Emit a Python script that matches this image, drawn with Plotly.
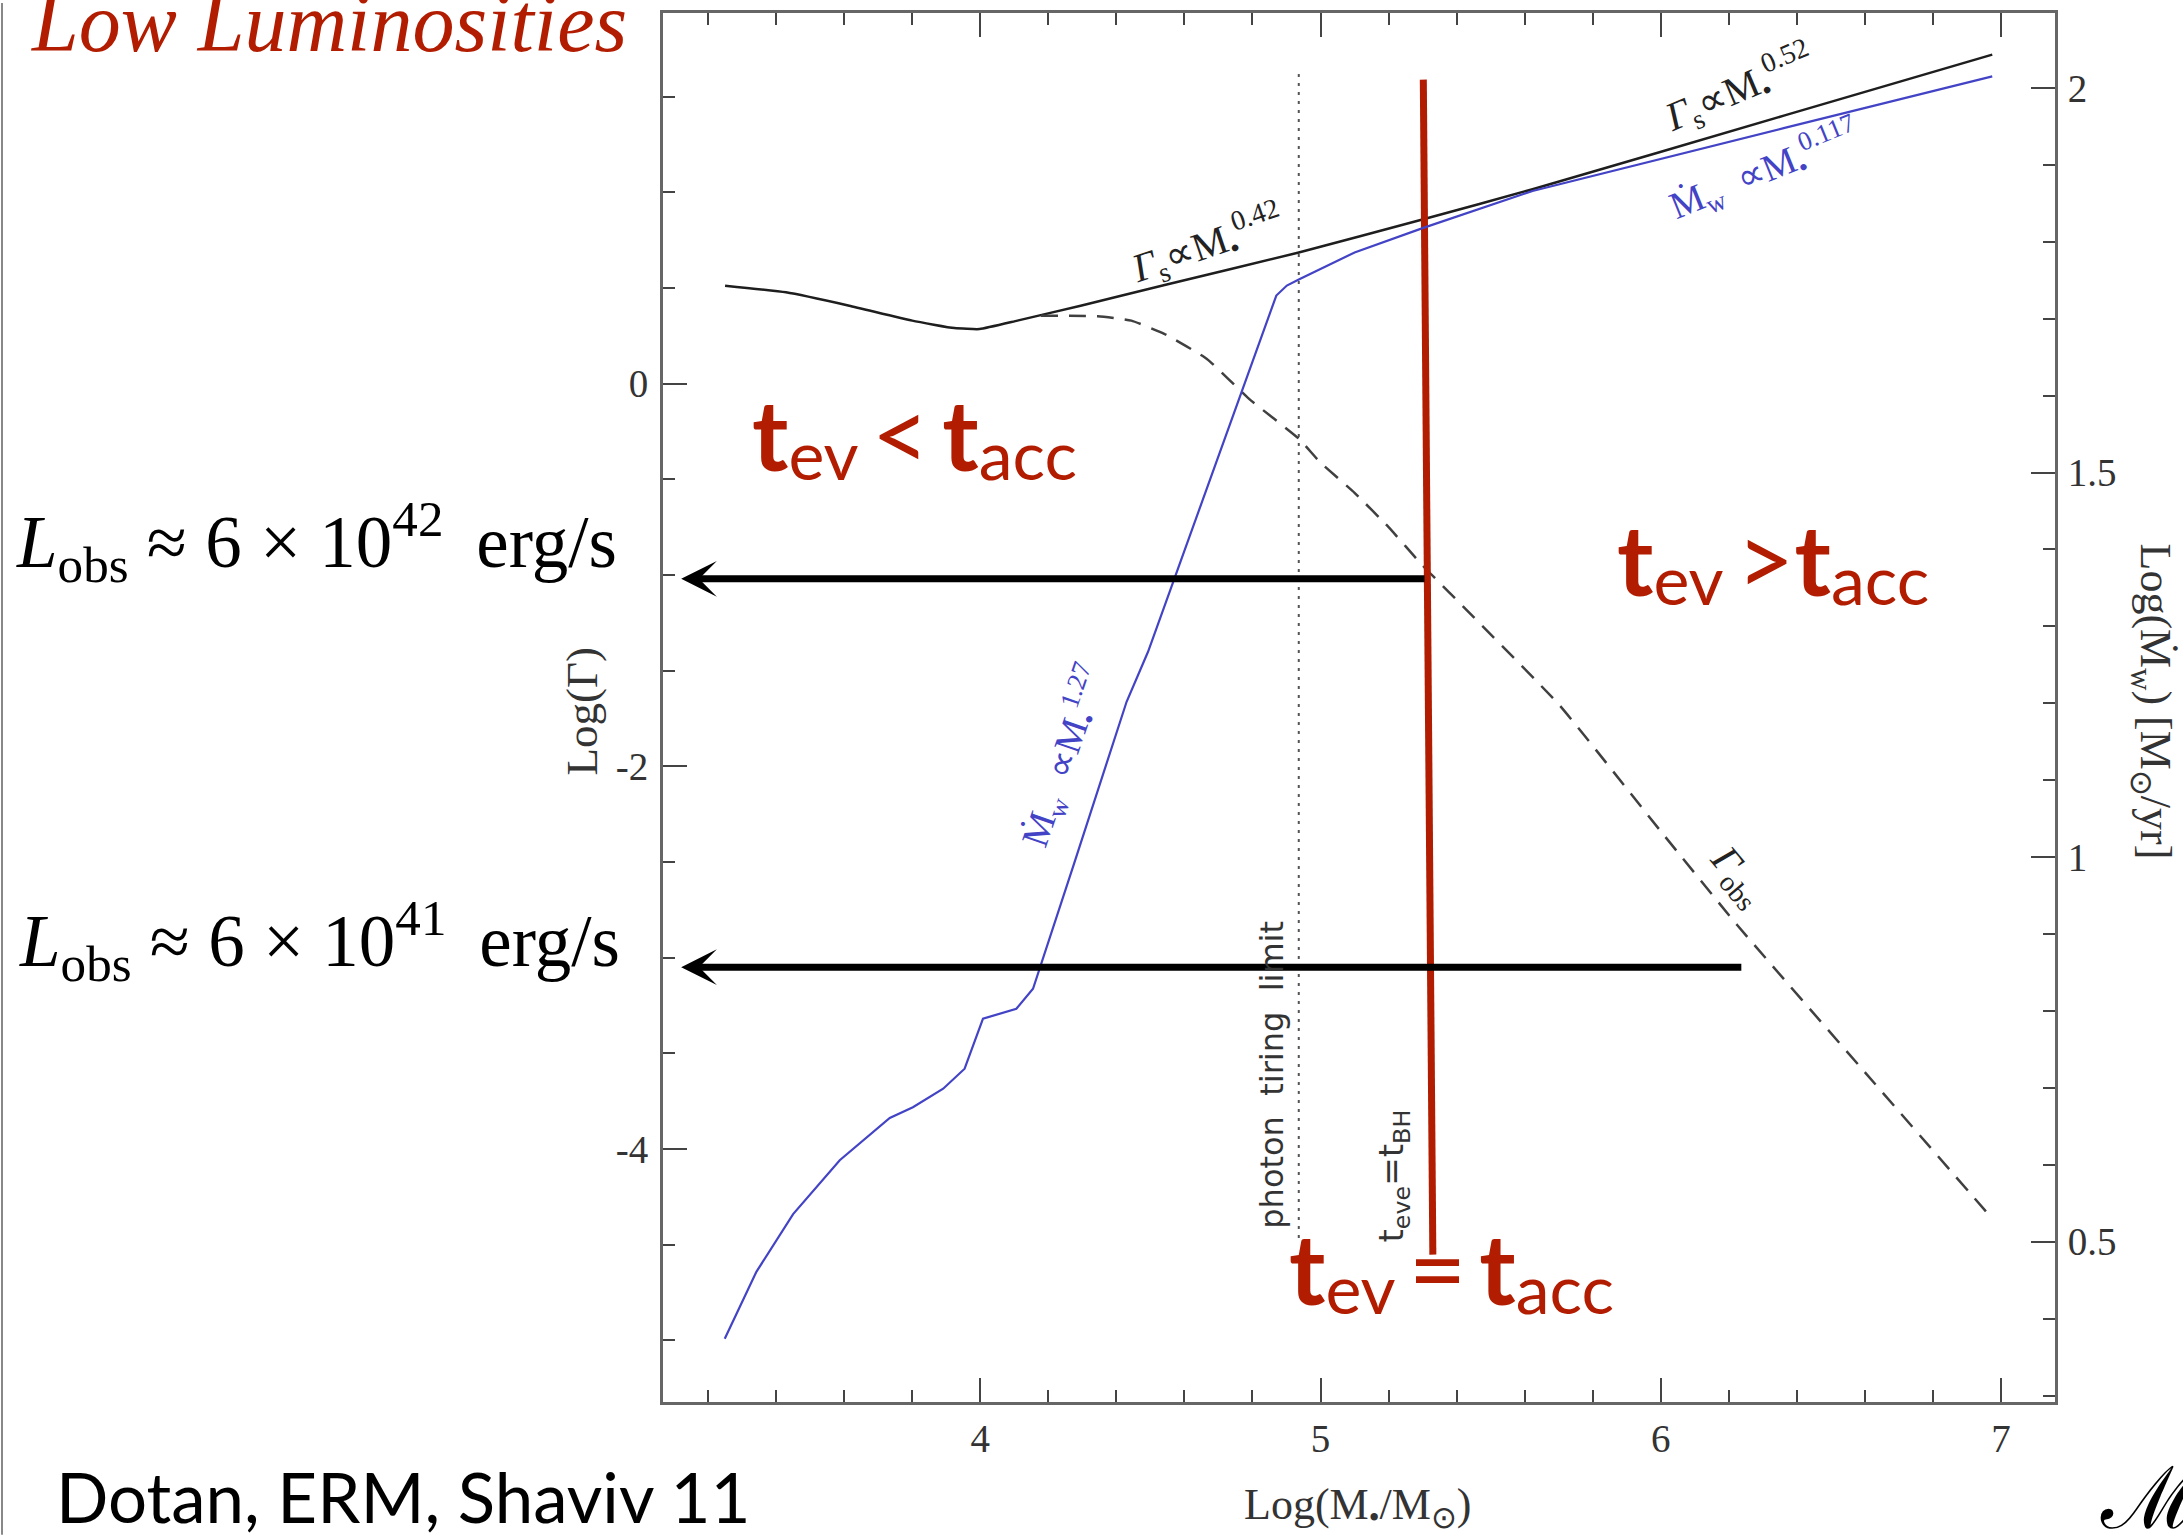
import plotly.graph_objects as go

# ---------------- data (x = log10 of black-hole mass in solar masses) ----------------
# Gamma_s : solid black curve, left axis log(Gamma)
gamma_s_x = [3.250, 3.429, 3.615, 3.800, 3.924, 3.998, 4.109, 4.295, 4.542, 4.936,
             5.302, 5.623, 6.364, 6.974]
gamma_s_y = [0.513, 0.478, 0.408, 0.330, 0.291, 0.286, 0.330, 0.408, 0.516, 0.686,
             0.860, 1.017, 1.403, 1.721]

# Gamma_obs : dashed curve, left axis
gamma_obs_x = [4.178, 4.345, 4.444, 4.542, 4.666, 4.790, 4.936, 4.998, 5.10, 5.20,
               5.30, 5.45, 5.703, 6.00, 6.223, 6.60, 6.977]
gamma_obs_y = [0.356, 0.353, 0.330, 0.260, 0.130, -0.079, -0.287, -0.409, -0.57, -0.75,
               -0.95, -1.22, -1.682, -2.34, -2.827, -3.60, -4.371]

# Mdot_w : blue curve, right axis log(Mdot_w) [Msun/yr]
mdot_x = [3.249, 3.342, 3.450, 3.587, 3.734, 3.802, 3.891, 3.954, 4.008, 4.038,
          4.106, 4.155, 4.185, 4.273, 4.430, 4.493, 4.870, 4.901, 4.936, 5.10,
          5.302, 5.623, 6.364, 6.974]
mdot_y = [0.374, 0.461, 0.536, 0.606, 0.661, 0.675, 0.699, 0.725, 0.790, 0.794,
          0.803, 0.829, 0.869, 0.988, 1.202, 1.267, 1.730, 1.743, 1.751, 1.786,
          1.818, 1.866, 1.948, 2.015]

# photon tiring limit (dotted vertical)
tiring_x = [4.936, 4.936]
tiring_y = [1.62, -4.474]

# t_ev = t_acc (thick red line)
tev_x = [5.302, 5.330]
tev_y = [1.59, -4.553]

# observed-luminosity levels (arrows)
lobs_level = [-1.02, -3.05]
arrow_tail_x = [5.31, 6.241]
arrow_tip_x = 3.121

x_ticks = [4, 5, 6, 7]
y_ticks = [-4, -2, 0]
y_ticktext = ["-4", "-2", "0"]
y2_ticks = [0.5, 1, 1.5, 2]
y2_ticktext = ["0.5", "1", "1.5", "2"]

# ---------------- geometry helpers ----------------
W, H = 2183, 1535
ML, MR, MT, MB = 663, 128, 10, 133
PW, PH = W - ML - MR, H - MT - MB


def px(xp):
    return (xp - ML) / PW


def py(yp):
    return (H - MB - yp) / PH


RED = "#B21C00"
BLUE = "#4343c6"
SERIF = "Liberation Serif"

fig = go.Figure()

fig.add_trace(go.Scatter(x=gamma_s_x, y=gamma_s_y, mode="lines",
                         line=dict(color="#1e1e1e", width=2.5, shape="spline", smoothing=0.4),
                         hoverinfo="skip"))
fig.add_trace(go.Scatter(x=gamma_obs_x, y=gamma_obs_y, mode="lines",
                         line=dict(color="#404040", width=2.5, dash="17px,11px",
                                   shape="spline", smoothing=0.4),
                         hoverinfo="skip"))
fig.add_trace(go.Scatter(x=mdot_x, y=mdot_y, mode="lines", yaxis="y2",
                         line=dict(color=BLUE, width=2.2), hoverinfo="skip"))
fig.add_trace(go.Scatter(x=tiring_x, y=tiring_y, mode="lines",
                         line=dict(color="#555555", width=2, dash="3px,6px"),
                         hoverinfo="skip"))
fig.add_trace(go.Scatter(x=tev_x, y=tev_y, mode="lines",
                         line=dict(color=RED, width=7), hoverinfo="skip"))

# arrows marking the observed luminosities
for yl, xt in zip(lobs_level, arrow_tail_x):
    fig.add_annotation(x=arrow_tip_x, y=yl, ax=xt, ay=yl, xref="x", yref="y",
                       axref="x", ayref="y", text="", showarrow=True,
                       arrowhead=3, arrowsize=0.85, arrowwidth=7, arrowcolor="black")


def ann(text, xc, yc, size, color="#222", family=SERIF, angle=0, xanchor="center",
        yanchor="middle"):
    fig.add_annotation(text=text, x=px(xc), y=py(yc), xref="paper", yref="paper",
                       showarrow=False, textangle=angle, xanchor=xanchor, yanchor=yanchor,
                       font=dict(family=family, size=size, color=color))


# curve labels
ann("<i>Γ</i><sub>s</sub>∝M<sub>•</sub><sup>0.42</sup>", 1207, 241, 40, angle=-19)
ann("<i>Γ</i><sub>s</sub>∝M<sub>•</sub><sup>0.52</sup>", 1739, 85, 40, angle=-23)
ann("Ṁ<sub>w</sub>  ∝M<sub>•</sub><sup>0.117</sup>", 1764, 167, 38, color=BLUE, angle=-22)
ann("Ṁ<sub>w</sub>  ∝M<sub>•</sub><sup>1.27</sup>", 1064, 755, 38, color=BLUE, angle=-71)
ann("<i>Γ</i><sub>obs</sub>", 1737, 875, 40, angle=50)
ann("photon  tiring  limit", 1272, 1074, 32, color="#333", family="DejaVu Sans", angle=-90)
ann("t<sub>eve</sub>=t<sub>BH</sub>", 1393, 1176, 34, color="#333", family="DejaVu Sans",
    angle=-90)

# axis titles
ann("Log(Γ)", 582, 710, 45, color="#333", angle=-90)
ann("Log(M<sub>•</sub>/M<sub>⊙</sub>)", 1357, 1508, 44, color="#333")
ann("Log(Ṁ<sub>w</sub>) [M<sub>⊙</sub>/yr]", 2152, 700, 44, color="#333", angle=90)


# regime labels
def tlab(op):
    big = "<span style='font-size:98px'><b>t</b></span>"
    return (big + "<sub><span style='font-size:68px'>ev</span></sub>"
            + op
            + big + "<sub><span style='font-size:68px'>acc</span></sub>")


SP = "<span style='font-size:50px'> </span>"
OP_LT = SP + "<span style='font-size:100px'>&lt;</span>" + SP
OP_GT = SP + "<span style='font-size:100px'>&gt;</span>"
OP_EQ = SP + "<span style='font-size:100px'>=</span>" + SP

ann(tlab(OP_LT), 750, 431, 43, color=RED, family="Lato", xanchor="left")
ann(tlab(OP_GT), 1615, 556, 43, color=RED, family="Lato", xanchor="left")
ann(tlab(OP_EQ), 1287, 1267, 43, color=RED, family="Lato", xanchor="left")

# luminosity labels
LOBS = "<i>L</i><sub>obs</sub> ≈ 6 × 10<sup>{}</sup> \u2009erg/s"
ann(LOBS.format(42), 14, 540, 73, color="black", xanchor="left")
ann(LOBS.format(41), 17, 940, 73, color="black", xanchor="left")

# slide texts
ann("<i>Low Luminosities</i>", 29, 20, 84, color=RED, xanchor="left")
ann("Dotan, ERM, Shaviv 11", 54, 1497, 69, color="black", family="Lato", xanchor="left")
ann("ℳ", 2098, 1498, 86, color="black", family="DejaVu Serif", xanchor="left")

# left slide border
fig.add_shape(type="line", xref="paper", yref="paper", x0=px(2), x1=px(2),
              y0=py(0), y1=py(H), line=dict(color="#888", width=2))

tick_common = dict(ticks="inside", ticklen=24, tickwidth=2, tickcolor="#444",
                   showline=True, linecolor="#666", linewidth=3, showgrid=False,
                   zeroline=False, tickfont=dict(family=SERIF, size=39, color="#333"))

fig.update_layout(
    width=W, height=H, autosize=False,
    margin=dict(l=ML, r=MR, t=MT, b=MB, pad=0),
    paper_bgcolor="white", plot_bgcolor="white", showlegend=False,
    xaxis=dict(range=[3.0676, 7.1584], tickvals=x_ticks, ticktext=[str(v) for v in x_ticks],
               mirror="ticks", ticklabelstandoff=0,
               minor=dict(dtick=0.2, tick0=0, ticks="inside", ticklen=12, tickwidth=2,
                          tickcolor="#444", showgrid=False),
               **tick_common),
    yaxis=dict(range=[-5.3234, 1.9384], tickvals=y_ticks, ticktext=y_ticktext,
               ticklabelstandoff=4,
               minor=dict(dtick=0.5, tick0=0, ticks="inside", ticklen=12, tickwidth=2,
                          tickcolor="#444", showgrid=False),
               **tick_common),
    yaxis2=dict(range=[0.2918, 2.0973], overlaying="y", side="right", anchor="x",
                tickvals=y2_ticks, ticktext=y2_ticktext, ticklabelstandoff=2,
                minor=dict(dtick=0.1, tick0=0, ticks="inside", ticklen=12, tickwidth=2,
                           tickcolor="#444", showgrid=False),
                **tick_common),
)

fig.write_html("out.html")
